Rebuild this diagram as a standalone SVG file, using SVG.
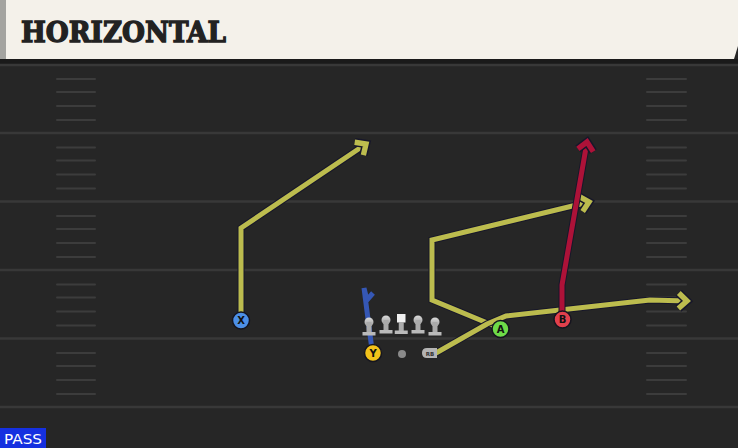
<svg xmlns="http://www.w3.org/2000/svg" width="738" height="448" viewBox="0 0 738 448">
<defs>
<style>
.yard{stroke:#383838;stroke-width:2.5}
.hash{stroke:#3c3c3c;stroke-width:2;stroke-linecap:round}
.outline{fill:none;stroke:#17172a;stroke-width:7;stroke-linejoin:miter;stroke-linecap:butt}
.yel{fill:none;stroke:#bcbc4e;stroke-width:5;stroke-linejoin:miter}
.red{fill:none;stroke:#ad1238;stroke-width:5;stroke-linejoin:miter}
.blu{fill:none;stroke:#3557b5;stroke-width:5;stroke-linejoin:miter}
.lbl{font-family:"DejaVu Sans",sans-serif;font-weight:bold;font-size:10px;fill:#111;text-anchor:middle}
.pc{stroke:#15151f;stroke-width:1.5}
</style>
<linearGradient id="lg" x1="0" y1="0" x2="0" y2="1">
<stop offset="0" stop-color="#dcdcdc"/>
<stop offset="1" stop-color="#9a9a9a"/>
</linearGradient>
<marker id="ay" markerUnits="userSpaceOnUse" markerWidth="24" markerHeight="24" viewBox="-14 -10 18 20" refX="0" refY="0" orient="auto" overflow="visible">
<path d="M-7,-6.5 L0,0 L-7,6.5" fill="none" stroke="#17172a" stroke-width="7"/>
<path d="M-7,-6.5 L0,0 L-7,6.5" fill="none" stroke="#bcbc4e" stroke-width="4.5"/>
</marker>
<marker id="ar" markerUnits="userSpaceOnUse" markerWidth="24" markerHeight="24" viewBox="-14 -10 18 20" refX="0" refY="0" orient="auto" overflow="visible">
<path d="M-7,-6.5 L0,0 L-7,6.5" fill="none" stroke="#17172a" stroke-width="7"/>
<path d="M-7,-6.5 L0,0 L-7,6.5" fill="none" stroke="#ad1238" stroke-width="4.5"/>
</marker>
<g id="lineman">
<circle cx="0" cy="-7" r="4.5" fill="url(#lg)"/>
<rect x="-2.5" y="-7" width="5" height="11" fill="#aaaaaa"/>
<rect x="-6.5" y="3" width="13" height="3.5" fill="#bababa"/>
</g>
</defs>

<!-- field -->
<rect x="0" y="0" width="738" height="448" fill="#262626"/>
<rect x="0" y="59" width="738" height="5" fill="#1a1a1a"/>
<g id="field-lines">
<line class="yard" x1="0" y1="65" x2="738" y2="65"/>
<line class="yard" x1="0" y1="133" x2="738" y2="133"/>
<line class="yard" x1="0" y1="201.5" x2="738" y2="201.5"/>
<line class="yard" x1="0" y1="270" x2="738" y2="270"/>
<line class="yard" x1="0" y1="338.5" x2="738" y2="338.5"/>
<line class="yard" x1="0" y1="407" x2="738" y2="407"/>
<g id="hashes-left">
<line class="hash" x1="57" y1="79" x2="95" y2="79"/>
<line class="hash" x1="57" y1="92" x2="95" y2="92"/>
<line class="hash" x1="57" y1="106" x2="95" y2="106"/>
<line class="hash" x1="57" y1="120" x2="95" y2="120"/>
<line class="hash" x1="57" y1="147.5" x2="95" y2="147.5"/>
<line class="hash" x1="57" y1="160.5" x2="95" y2="160.5"/>
<line class="hash" x1="57" y1="174.5" x2="95" y2="174.5"/>
<line class="hash" x1="57" y1="188.5" x2="95" y2="188.5"/>
<line class="hash" x1="57" y1="216" x2="95" y2="216"/>
<line class="hash" x1="57" y1="229" x2="95" y2="229"/>
<line class="hash" x1="57" y1="243" x2="95" y2="243"/>
<line class="hash" x1="57" y1="257" x2="95" y2="257"/>
<line class="hash" x1="57" y1="284.5" x2="95" y2="284.5"/>
<line class="hash" x1="57" y1="297.5" x2="95" y2="297.5"/>
<line class="hash" x1="57" y1="311.5" x2="95" y2="311.5"/>
<line class="hash" x1="57" y1="325.5" x2="95" y2="325.5"/>
<line class="hash" x1="57" y1="353" x2="95" y2="353"/>
<line class="hash" x1="57" y1="366" x2="95" y2="366"/>
<line class="hash" x1="57" y1="380" x2="95" y2="380"/>
<line class="hash" x1="57" y1="394" x2="95" y2="394"/>
</g>
<g id="hashes-right">
<line class="hash" x1="647" y1="79" x2="686" y2="79"/>
<line class="hash" x1="647" y1="92" x2="686" y2="92"/>
<line class="hash" x1="647" y1="106" x2="686" y2="106"/>
<line class="hash" x1="647" y1="120" x2="686" y2="120"/>
<line class="hash" x1="647" y1="147.5" x2="686" y2="147.5"/>
<line class="hash" x1="647" y1="160.5" x2="686" y2="160.5"/>
<line class="hash" x1="647" y1="174.5" x2="686" y2="174.5"/>
<line class="hash" x1="647" y1="188.5" x2="686" y2="188.5"/>
<line class="hash" x1="647" y1="216" x2="686" y2="216"/>
<line class="hash" x1="647" y1="229" x2="686" y2="229"/>
<line class="hash" x1="647" y1="243" x2="686" y2="243"/>
<line class="hash" x1="647" y1="257" x2="686" y2="257"/>
<line class="hash" x1="647" y1="284.5" x2="686" y2="284.5"/>
<line class="hash" x1="647" y1="297.5" x2="686" y2="297.5"/>
<line class="hash" x1="647" y1="311.5" x2="686" y2="311.5"/>
<line class="hash" x1="647" y1="325.5" x2="686" y2="325.5"/>
<line class="hash" x1="647" y1="353" x2="686" y2="353"/>
<line class="hash" x1="647" y1="366" x2="686" y2="366"/>
<line class="hash" x1="647" y1="380" x2="686" y2="380"/>
<line class="hash" x1="647" y1="394" x2="686" y2="394"/>
</g>
</g>

<!-- header -->
<g id="header">
<path d="M0,0 H738 V46 L734,59 H0 Z" fill="#f4f1ea"/>
<rect x="0" y="0" width="6" height="59" fill="#a4a4a0"/>
<text x="21" y="42" font-family="'DejaVu Serif',serif" font-weight="bold" font-size="27" fill="#222" stroke="#222" stroke-width="1.3" textLength="205" lengthAdjust="spacingAndGlyphs">HORIZONTAL</text>
</g>

<!-- connectors -->
<g id="routes">
<path class="outline" d="M241,320 V228 L366,144"/>
<path class="yel" d="M241,320 V228 L366,144" marker-end="url(#ay)"/>
<path class="outline" d="M497,327 L432,300 V240 L589,202"/>
<path class="yel" d="M497,327 L432,300 V240 L589,202" marker-end="url(#ay)"/>
<path class="outline" d="M436,353 L487,324 L506,316 L650,300 L687,301"/>
<path class="yel" d="M436,353 L487,324 L506,316 L650,300 L687,301" marker-end="url(#ay)"/>
<path class="outline" d="M562,320 V285 L587,142"/>
<path class="red" d="M562,320 V285 L587,142" marker-end="url(#ar)"/>
<path class="blu" d="M372,350 L364,288 L367,300 L373,293"/>
</g>

<!-- offensive line -->
<g id="ol">
<use href="#lineman" x="369" y="329"/>
<use href="#lineman" x="386" y="327"/>
<g id="center">
<rect x="397" y="314" width="8.5" height="8.5" fill="#f0f0f0"/>
<rect x="398.75" y="322" width="5" height="10" fill="#aaaaaa"/>
<rect x="394.75" y="330.5" width="13" height="3.5" fill="#bababa"/>
</g>
<use href="#lineman" x="418" y="327"/>
<use href="#lineman" x="435" y="329"/>
</g>

<g id="qb"><circle cx="402" cy="354" r="4" fill="#8a8a8a"/></g>
<g id="rb">
<path d="M427,348 H437 V358 H427 Q422,358 422,353 Q422,348 427,348 Z" fill="#b4b4b4"/>
<text x="430" y="355.5" font-family="'DejaVu Sans',sans-serif" font-weight="bold" font-size="5.5" fill="#333" text-anchor="middle">RB</text>
</g>

<g id="X"><circle class="pc" cx="241" cy="320.5" r="8.5" fill="#4c8fe6"/><text class="lbl" x="241" y="324.3">X</text></g>
<g id="Y"><circle class="pc" cx="373" cy="353" r="8.5" fill="#f2c21a"/><text class="lbl" x="373" y="356.8">Y</text></g>
<g id="A"><circle class="pc" cx="500.5" cy="329" r="8.5" fill="#6edb48"/><text class="lbl" x="500.5" y="332.8">A</text></g>
<g id="B"><circle class="pc" cx="562.5" cy="319.5" r="8.5" fill="#e2404c"/><text class="lbl" x="562.5" y="323.3">B</text></g>

<g id="pass-badge">
<rect x="0" y="428" width="46" height="20" fill="#1530e0"/>
<text x="4" y="444" font-family="'DejaVu Sans',sans-serif" font-size="14.5" fill="#fff" textLength="38" lengthAdjust="spacingAndGlyphs">PASS</text>
</g>
</svg>
